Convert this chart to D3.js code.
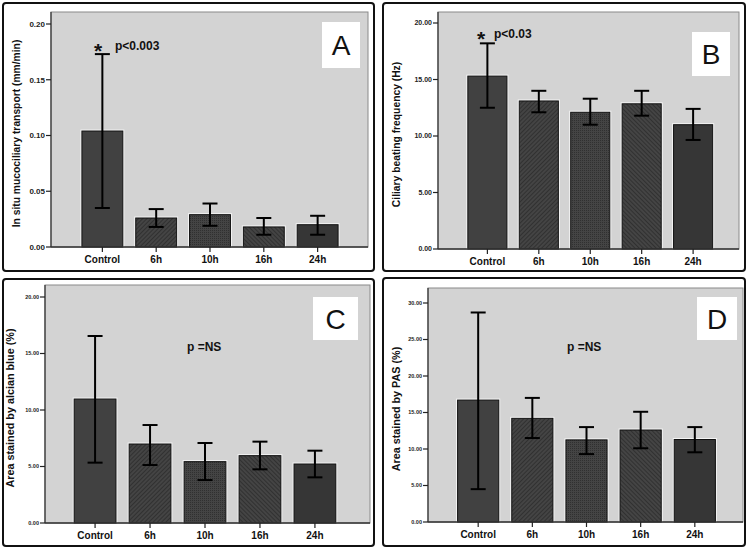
<!DOCTYPE html>
<html><head><meta charset="utf-8">
<script src="https://cdn.jsdelivr.net/npm/d3@7"></script>
<style>body{margin:0;background:#fff}svg{display:block}</style></head>
<body>
<svg id="c" width="751" height="549"></svg>
<script>
const categories = ["Control", "6h", "10h", "16h", "24h"];

const mctMean = [0.104, 0.026, 0.029, 0.018, 0.020];
const mctLow  = [0.035, 0.018, 0.019, 0.011, 0.011];
const mctHigh = [0.173, 0.034, 0.039, 0.026, 0.028];

const cbfMean = [15.3, 13.1, 12.1, 12.85, 11.0];
const cbfLow  = [12.5, 12.1, 11.0, 11.8, 9.65];
const cbfHigh = [18.2, 14.0, 13.3, 14.0, 12.4];

const alcianMean = [10.97, 6.99, 5.43, 5.96, 5.22];
const alcianLow  = [5.34, 5.13, 3.8, 4.75, 4.04];
const alcianHigh = [16.55, 8.67, 7.08, 7.2, 6.4];

const pasMean = [16.7, 14.2, 11.25, 12.6, 11.3];
const pasLow  = [4.5, 11.5, 9.3, 10.1, 9.55];
const pasHigh = [28.7, 17.0, 13.0, 15.1, 13.0];

const ticksA = [0, 0.05, 0.10, 0.15, 0.20];
const tickLabelsA = ["0.00", "0.05", "0.10", "0.15", "0.20"];
const ticksB = [0, 5, 10, 15, 20];
const tickLabelsB = ["0.00", "5.00", "10.00", "15.00", "20.00"];
const ticksC = [0, 5, 10, 15, 20];
const tickLabelsC = ["0.00", "5.00", "10.00", "15.00", "20.00"];
const ticksD = [0, 5, 10, 15, 20, 25, 30];
const tickLabelsD = ["0.00", "5.00", "10.00", "15.00", "20.00", "25.00", "30.00"];

const svg = d3.select("#c");
const defs = svg.append("defs");

function hatch(id, angle, base, line, size) {
  const p = defs.append("pattern").attr("id", id).attr("patternUnits", "userSpaceOnUse")
    .attr("width", size).attr("height", size).attr("patternTransform", `rotate(${angle})`);
  p.append("rect").attr("width", size).attr("height", size).attr("fill", base);
  p.append("line").attr("x1", 0).attr("y1", 0).attr("x2", 0).attr("y2", size)
    .attr("stroke", line).attr("stroke-width", 1.2);
}
hatch("h6", 45, "#444", "#242424", 3);
hatch("h16", -45, "#444", "#242424", 3);
const p10 = defs.append("pattern").attr("id", "h10").attr("patternUnits", "userSpaceOnUse")
  .attr("width", 2).attr("height", 2);
p10.append("rect").attr("width", 2).attr("height", 2).attr("fill", "#444");
p10.append("rect").attr("width", 1).attr("height", 1).attr("fill", "#303030");
const fills = ["#414141", "url(#h6)", "url(#h10)", "url(#h16)", "#363636"];

const panels = [
  { letter: "A", box: [3, 3, 374, 271], plot: [51, 12, 368, 247], yr: [247, 24], dom: [0, 0.2],
    xr: [69, 351], mean: mctMean, low: mctLow, high: mctHigh, ticks: ticksA, tl: tickLabelsA, tfs: 8,
    label: "In situ mucociliary transport (mm/min)", lx: 20, lfs: 10.3,
    lbox: [322, 22, 38, 46], star: [98, 58], ptext: "p<0.003", pt: [115, 50] },
  { letter: "B", box: [383, 3, 745, 271], plot: [438, 12, 739, 249], yr: [249, 23], dom: [0, 20],
    xr: [455.5, 725], mean: cbfMean, low: cbfLow, high: cbfHigh, ticks: ticksB, tl: tickLabelsB, tfs: 7,
    label: "Ciliary beating frequency (Hz)", lx: 400, lfs: 10.3,
    lbox: [692, 32, 38, 44], star: [481, 46], ptext: "p<0.03", pt: [494, 38] },
  { letter: "C", box: [3, 279, 374, 546], plot: [45, 285, 370, 523], yr: [523, 297], dom: [0, 20],
    xr: [61, 349], mean: alcianMean, low: alcianLow, high: alcianHigh, ticks: ticksC, tl: tickLabelsC, tfs: 5.5,
    label: "Area stained by alcian blue (%)", lx: 14, lfs: 10.8,
    lbox: [313, 297, 45, 43], ptext: "p =NS", pt: [187, 351] },
  { letter: "D", box: [383, 278, 745, 546], plot: [428, 288, 743, 522], yr: [522, 303], dom: [0, 30],
    xr: [444.6, 728.4], mean: pasMean, low: pasLow, high: pasHigh, ticks: ticksD, tl: tickLabelsD, tfs: 5.5,
    label: "Area stained by PAS (%)", lx: 400, lfs: 10.8,
    lbox: [697, 297, 40, 43], ptext: "p =NS", pt: [567, 351] }
];

panels.forEach(P => {
  const g = svg.append("g");
  const [bx0, by0, bx1, by1] = P.box;
  g.append("rect").attr("x", bx0).attr("y", by0).attr("width", bx1 - bx0).attr("height", by1 - by0)
    .attr("rx", 3).attr("fill", "#fff").attr("stroke", "#111").attr("stroke-width", 2);
  const [px0, py0, px1, py1] = P.plot;
  g.append("rect").attr("x", px0).attr("y", py0).attr("width", px1 - px0).attr("height", py1 - py0)
    .attr("fill", "#d3d3d3").attr("stroke", "#8a8a8a").attr("stroke-width", 1);

  const y = d3.scaleLinear().domain(P.dom).range(P.yr);
  const x = d3.scaleBand().domain(categories).range(P.xr).padding(0.24);

  g.append("rect").attr("x", P.lbox[0]).attr("y", P.lbox[1]).attr("width", P.lbox[2]).attr("height", P.lbox[3])
    .attr("fill", "#fff");
  g.append("text").attr("x", P.lbox[0] + P.lbox[2] / 2).attr("y", P.lbox[1] + P.lbox[3] / 2 + 10)
    .attr("text-anchor", "middle").attr("font-family", "Liberation Sans, Arial, sans-serif")
    .attr("font-size", 28).attr("fill", "#111").text(P.letter);

  const idx = d3.range(categories.length);
  g.selectAll("rect.halo").data(idx).enter().append("rect")
    .attr("x", i => x(categories[i]) - 1.5).attr("y", i => y(P.mean[i]) - 1.5)
    .attr("width", x.bandwidth() + 3).attr("height", i => y(0) - y(P.mean[i]) + 1.5)
    .attr("fill", "#f4f4f4");
  g.selectAll("rect.bar").data(idx).enter().append("rect")
    .attr("x", i => x(categories[i])).attr("y", i => y(P.mean[i]))
    .attr("width", x.bandwidth()).attr("height", i => y(0) - y(P.mean[i]))
    .attr("fill", i => fills[i]).attr("stroke", "#111").attr("stroke-width", 1);

  const cx = i => x(categories[i]) + x.bandwidth() / 2;
  const eg = g.append("g").attr("stroke", "#000").attr("stroke-width", 2);
  eg.selectAll("line.v").data(idx).enter().append("line")
    .attr("x1", cx).attr("x2", cx).attr("y1", i => y(P.low[i])).attr("y2", i => y(P.high[i]));
  eg.selectAll("line.t").data(idx).enter().append("line")
    .attr("x1", i => cx(i) - 7.5).attr("x2", i => cx(i) + 7.5)
    .attr("y1", i => y(P.high[i])).attr("y2", i => y(P.high[i]));
  eg.selectAll("line.b").data(idx).enter().append("line")
    .attr("x1", i => cx(i) - 7.5).attr("x2", i => cx(i) + 7.5)
    .attr("y1", i => y(P.low[i])).attr("y2", i => y(P.low[i]));

  g.append("line").attr("x1", px0).attr("x2", px0).attr("y1", py0).attr("y2", py1)
    .attr("stroke", "#333").attr("stroke-width", 1.2);
  g.append("line").attr("x1", px0).attr("x2", px1).attr("y1", py1).attr("y2", py1)
    .attr("stroke", "#333").attr("stroke-width", 1.5);
  P.ticks.forEach((t, k) => {
    g.append("line").attr("x1", px0 - 5).attr("x2", px0).attr("y1", y(t)).attr("y2", y(t))
      .attr("stroke", "#222").attr("stroke-width", 1.2);
    g.append("text").attr("x", px0 - 6).attr("y", y(t)).attr("dy", "0.35em")
      .attr("text-anchor", "end").attr("font-family", "Liberation Sans, Arial, sans-serif")
      .attr("font-weight", "bold").attr("font-size", P.tfs).attr("fill", "#222").text(P.tl[k]);
  });
  categories.forEach((c, i) => {
    g.append("line").attr("x1", cx(i)).attr("x2", cx(i)).attr("y1", py1).attr("y2", py1 + 5)
      .attr("stroke", "#222").attr("stroke-width", 1.2);
    g.append("text").attr("x", cx(i)).attr("y", py1 + 16).attr("text-anchor", "middle")
      .attr("font-family", "Liberation Sans, Arial, sans-serif").attr("font-weight", "bold")
      .attr("font-size", 10).attr("fill", "#111").text(c);
  });
  g.append("text").attr("transform", `translate(${P.lx},${(y(P.dom[0]) + py0) / 2 + 4}) rotate(-90)`)
    .attr("text-anchor", "middle").attr("font-family", "Liberation Sans, Arial, sans-serif")
    .attr("font-weight", "bold").attr("font-size", P.lfs).attr("fill", "#111").text(P.label);

  if (P.star) {
    g.append("text").attr("x", P.star[0]).attr("y", P.star[1]).attr("text-anchor", "middle")
      .attr("font-family", "Liberation Sans, Arial, sans-serif").attr("font-weight", "bold")
      .attr("font-size", 21).attr("fill", "#111").text("*");
  }
  g.append("text").attr("x", P.pt[0]).attr("y", P.pt[1])
    .attr("font-family", "Liberation Sans, Arial, sans-serif").attr("font-weight", "bold")
    .attr("font-size", 12).attr("fill", "#111").text(P.ptext);
});
</script>
</body></html>
